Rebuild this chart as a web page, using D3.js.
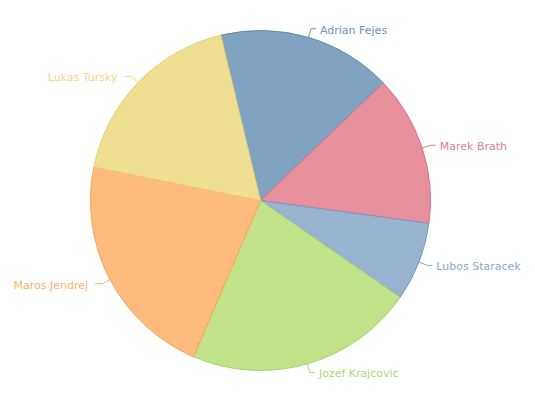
<!DOCTYPE html>
<html><head><meta charset="utf-8">
<script src="https://cdn.jsdelivr.net/npm/d3@7"></script>
<style>body{margin:0;background:#fff}</style>
</head><body>
<svg id="c" width="535" height="400"></svg>
<script>
const names = ["Adrian Fejes","Marek Brath","Lubos Staracek","Jozef Krajcovic","Maros Jendrej","Lukas Tursky"];
const values = [16.6, 14.3, 7.5, 21.8, 21.7, 18.1];
const fills = ["#7fa3c0","#e78f9c","#97b3d0","#c2e28a","#ffbb7e","#eedf93"];
const strokes = ["#5f88ad","#dc6f83","#7899c0","#a9d46f","#f7a54c","#e6d070"];
const textColors = ["#6d94b7","#e07f8f","#8aa8c8","#b3d97c","#fbb06a","#eeda84"];

const svg = d3.select("#c");
const cx = 260.5, cy = 200.5, r = 170;
const start = -13.5 * Math.PI/180;
const pie = d3.pie().sort(null).value(d=>d).startAngle(start).endAngle(start + 2*Math.PI);
const arcs = pie(values);
const arc = d3.arc().innerRadius(0).outerRadius(r);
const g = svg.append("g").attr("transform",`translate(${cx},${cy})`);
g.selectAll("path.s").data(arcs).join("path").attr("class","s")
  .attr("d",arc).attr("fill",(d,i)=>fills[i]).attr("stroke",(d,i)=>strokes[i]).attr("stroke-width",1).attr("stroke-linejoin","round");

arcs.forEach((d,i)=>{
  const a = (d.startAngle + d.endAngle)/2;
  const s = Math.sin(a), c = -Math.cos(a);
  const p0 = [r*s, r*c];
  const p1 = [(r+9)*s, (r+9)*c];
  const right = s >= 0;
  const p2 = [p1[0] + (right?5:-7), p1[1]];
  g.append("path").attr("d", d3.line()([p0,p1,p2])).attr("fill","none")
    .attr("stroke", textColors[i]).attr("stroke-width",1);
  g.append("text").attr("x", p2[0] + (right?4:-7)).attr("y", p2[1] + 1)
    .attr("dy","0.35em").attr("text-anchor", right?"start":"end")
    .attr("font-family","DejaVu Sans, Verdana, sans-serif").attr("font-size","11px")
    .attr("fill", textColors[i]).text(names[i]);
});
</script>
</body></html>
